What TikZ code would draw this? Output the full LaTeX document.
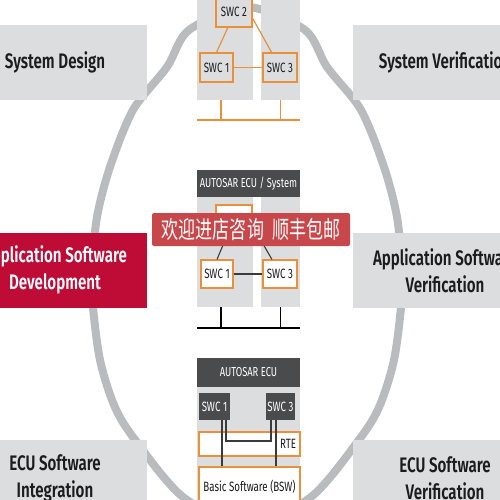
\documentclass[tikz,border=0pt]{standalone}
\usepackage{fontspec}
\usetikzlibrary{calc}
\newfontfamily\lblfont{Fira Sans}[FakeStretch=0.72,BoldFont={Fira Sans SemiBold}]
\newfontfamily\cjk{Noto Sans CJK SC}[FakeStretch=0.71]
\definecolor{boxgray}{HTML}{DCDDDF}
\definecolor{ringgray}{HTML}{B9BCBF}
\definecolor{audired}{HTML}{BE0C36}
\definecolor{headgray}{HTML}{4A4B4D}
\definecolor{swcorange}{HTML}{E9913A}
\definecolor{inkdark}{HTML}{1C1C1C}
\definecolor{bannerred}{HTML}{C8474A}
\definecolor{wiregray}{HTML}{3A3A3A}
\tikzset{
  phase/.style={fill=boxgray,inner sep=0pt,minimum width=184pt,minimum height=75pt,align=center,text=inkdark,font=\lblfont\bfseries\fontsize{21}{27}\selectfont},
  col/.style={fill=boxgray,inner sep=0pt},
  swc/.style={draw=swcorange,line width=1.2pt,inner sep=0pt,minimum height=28pt,text=inkdark,font=\lblfont\fontsize{13.5}{16}\selectfont},
  swcdark/.style={fill=headgray,inner sep=0pt,minimum height=27pt,text=white,font=\lblfont\fontsize{13.5}{16}\selectfont},
  head/.style={fill=headgray,inner sep=0pt,minimum width=103pt,text=white,font=\lblfont\fontsize{13}{16}\selectfont},
  layer/.style={draw=swcorange,line width=1.2pt,fill=white,inner sep=0pt,minimum width=101pt,text=inkdark,font=\lblfont\fontsize{13.5}{16}\selectfont},
  ring/.style={draw=ringgray,line width=8pt},
  wire/.style={draw=wiregray,line width=1.1pt},
  owire/.style={draw=swcorange,line width=1.2pt}
}
\begin{document}
\begin{tikzpicture}[x=1pt,y=-1pt]
  \useasboundingbox (0,0) rectangle (500,500);
  \clip (0,0) rectangle (500,500);
  \draw[ring] plot[smooth cycle] coordinates {(247,7) (305,30) (327,67) (361,110) (384,167) (397,217) (402,270) (401,307) (394,360) (380,405) (361,437) (311,497) (247,525) (183,497) (133,437) (114,405) (100,360) (93,307) (92,270) (97,217) (110,167) (133,110) (167,67) (189,30)};

  \node[phase] (sysdesign) at (55,62.5) {System Design};
  \node[phase] (sysverif) at (445,62.5) {System Verification};
  \node[phase,fill=audired,text=white] (appdev) at (55,270) {Application Software\\Development};
  \node[phase] (appverif) at (445,270.5) {Application Software\\Verification};
  \node[phase,minimum height=76pt] (ecuint) at (55,478) {ECU Software\\Integration};
  \node[phase,minimum height=76pt] (ecuverif) at (445,478) {ECU Software\\Verification};

  \node[col,minimum width=56pt,minimum height=105pt] (colA1) at (225,47.5) {};
  \node[col,minimum width=39pt,minimum height=105pt] (colA2) at (280.5,47.5) {};
  \node[swc,minimum width=36pt,minimum height=31pt] (swcA2) at (234,11.5) {SWC 2};
  \node[swc,minimum width=33pt,minimum height=29pt] (swcA1) at (216.5,67.5) {SWC 1};
  \node[swc,minimum width=34pt,minimum height=29pt] (swcA3) at (280,67.5) {SWC 3};
  \draw[owire] (swcA2.249) -- (swcA1.north);
  \draw[owire] (swcA2.340) -- (swcA3.119);
  \draw[owire] (swcA1.east) -- (swcA3.west);
  \coordinate (busA1) at (197,120);
  \coordinate (busA2) at (300,120);
  \draw[owire] (busA1) -- (busA2);
  \draw[owire] ([xshift=-4pt]colA1.south) coordinate (a1d) -- (a1d |- busA1);
  \draw[owire] (colA2.south) -- (colA2.south |- busA1);

  \node[head,minimum height=27pt] (headB) at (248.5,183.5) {AUTOSAR ECU / System};
  \node[col,minimum width=56pt,minimum height=110pt] (colB1) at (225,252) {};
  \node[col,minimum width=39pt,minimum height=110pt] (colB2) at (280.5,252) {};
  \node[swc,fill=white,minimum width=36pt] (swcB2) at (234,219) {SWC 2};
  \node[swc,fill=white,minimum width=32pt] (swcB1) at (217,274) {SWC 1};
  \node[swc,fill=white,minimum width=34pt] (swcB3) at (280,274) {SWC 3};
  \draw[wire] (swcB2.247) -- (swcB1.north);
  \draw[wire] (swcB2.340) -- (swcB3.119);
  \draw[wire] (swcB1.east) -- (swcB3.west);
  \coordinate (busB1) at (197,328);
  \coordinate (busB2) at (300,328);
  \draw[wire,draw=black] (busB1) -- (busB2);
  \draw[wire,draw=black] ([xshift=-4pt]colB1.south) coordinate (b1d) -- (b1d |- busB1);
  \draw[wire,draw=black] (colB2.south) -- (colB2.south |- busB1);

  \node[head,minimum height=29pt] (headC) at (248.5,372.5) {AUTOSAR ECU};
  \node[col,minimum width=103pt,minimum height=118pt] (bodyC) at (248.5,446) {};
  \node[swcdark,minimum width=31pt] (swcC1) at (214.5,406.5) {SWC 1};
  \node[swcdark,minimum width=29pt] (swcC3) at (280.5,406.5) {SWC 3};
  \node[layer,minimum height=24pt,inner xsep=4pt,text width=93pt,align=right] (rte) at (249.5,444) {RTE};
  \node[layer,minimum height=40pt] (bsw) at (249.5,487) {Basic Software (BSW)};
  \coordinate (rteturn) at (271,441);
  \draw[wire] ([xshift=7.5pt]swcC1.south) coordinate (c1d) -- (c1d |- bsw.north);
  \draw[wire] ([xshift=11.5pt]swcC1.south) |- (rteturn) -- (rteturn |- swcC3.south);
  \draw[wire] ([xshift=-4.5pt]swcC3.south) coordinate (c3d) -- (c3d |- bsw.north);

  \node[fill=bannerred,rounded corners=2pt,minimum width=198pt,minimum height=33pt,inner sep=0pt,text=white,font=\cjk\fontsize{24}{26}\selectfont] (banner) at (251,229.5) {欢迎进店咨询\hspace{8pt}顺丰包邮};
\end{tikzpicture}
\end{document}
